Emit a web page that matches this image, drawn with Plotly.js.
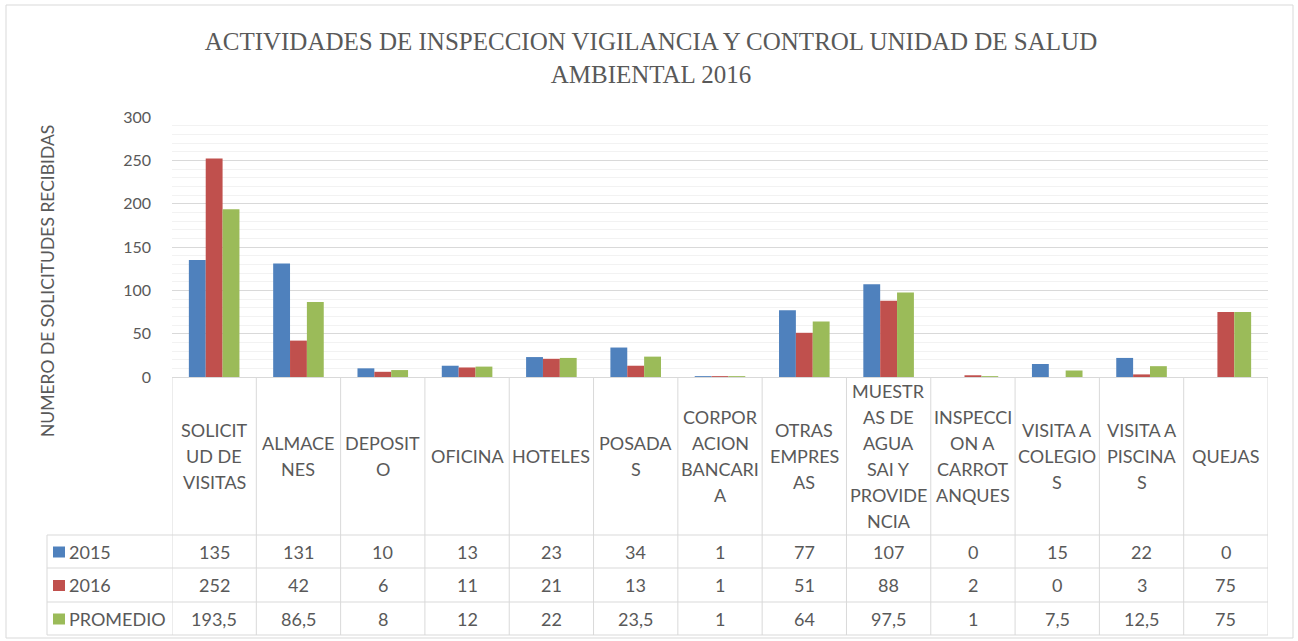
<!DOCTYPE html>
<html>
<head>
<meta charset="utf-8">
<script src="https://cdn.plot.ly/plotly-3.0.1.min.js"></script>
<style>
html,body{margin:0;padding:0;background:#fff;}
#chart{width:1298px;height:641px;}
</style>
</head>
<body>
<div id="chart"></div>
<script>
// ---- data ----
var categories = ["SOLICITUD DE VISITAS","ALMACENES","DEPOSITO","OFICINA","HOTELES","POSADAS",
  "CORPORACION BANCARIA","OTRAS EMPRESAS","MUESTRAS DE AGUA SAI Y PROVIDENCIA",
  "INSPECCION A CARROTANQUES","VISITA A COLEGIOS","VISITA A PISCINAS","QUEJAS"];
var categoryLabels = ["SOLICIT<br>UD DE<br>VISITAS","ALMACE<br>NES","DEPOSIT<br>O","OFICINA","HOTELES",
  "POSADA<br>S","CORPOR<br>ACION<br>BANCARI<br>A","OTRAS<br>EMPRES<br>AS",
  "MUESTR<br>AS DE<br>AGUA<br>SAI Y<br>PROVIDE<br>NCIA","INSPECCI<br>ON A<br>CARROT<br>ANQUES",
  "VISITA A<br>COLEGIO<br>S","VISITA A<br>PISCINA<br>S","QUEJAS"];
var seriesNames = ["2015","2016","PROMEDIO"];
var values2015 = [135,131,10,13,23,34,1,77,107,0,15,22,0];
var values2016 = [252,42,6,11,21,13,1,51,88,2,0,3,75];
var valuesPromedio = [193.5,86.5,8,12,22,23.5,1,64,97.5,1,7.5,12.5,75];
var yTicks = [0,50,100,150,200,250,300];
var chartTitle = "ACTIVIDADES DE INSPECCION VIGILANCIA Y CONTROL UNIDAD DE SALUD<br>AMBIENTAL 2016";
var yTitle = "NUMERO DE SOLICITUDES RECIBIDAS";

// ---- style ----
var colors = ["#4F81BD","#C0504D","#9BBB59"];
var textColor = "#595959";
var lineColor = "#D9D9D9";
var bodyFont = "Lato, 'Open Sans', sans-serif";
var tableSize = 18;

var W = 1298, H = 641;
var mL = 172, mR = 30, mT = 117, mB = 6;
var plotH = H - mT - mB, plotW = W - mL - mR;
function py(pix){ return (H - mB - pix) / plotH; }
function px(pix){ return (pix - mL) / plotW; }

var axisY = 377;
var headerBottom = 535, row1 = 568, row2 = 602, tableBottom = 635;
var legendLeft = 47;

var allSeries = [values2015, values2016, valuesPromedio];
var traces = allSeries.map(function(vals, i){
  return {
    type: "bar", name: seriesNames[i], x: categories, y: vals,
    marker: {color: colors[i]}, hoverinfo: "x+y"
  };
});

var annotations = [];
var shapes = [];

// category header labels (line by line)
var headerCenter = (axisY + headerBottom) / 2;
var lineSp = 26;
categoryLabels.forEach(function(lbl, ci){
  var lines = lbl.split("<br>");
  var n = lines.length;
  lines.forEach(function(t, k){
    annotations.push({
      xref: "x", yref: "paper", x: categories[ci], y: py(headerCenter),
      yshift: ((n - 1) / 2 - k) * lineSp,
      text: t, showarrow: false, xanchor: "center", yanchor: "middle",
      font: {family: bodyFont, size: tableSize, color: textColor}
    });
  });
});

// table values
var rowCenters = [(headerBottom + row1) / 2, (row1 + row2) / 2, (row2 + tableBottom) / 2];
function fmt(v){ return String(v).replace(".", ","); }
allSeries.forEach(function(vals, si){
  vals.forEach(function(v, ci){
    annotations.push({
      xref: "x", yref: "paper", x: categories[ci], y: py(rowCenters[si]),
      text: fmt(v), showarrow: false, xanchor: "center", yanchor: "middle",
      font: {family: bodyFont, size: tableSize, color: textColor}
    });
  });
  // row label
  annotations.push({
    xref: "paper", yref: "paper", x: px(67), y: py(rowCenters[si]),
    text: seriesNames[si], showarrow: false, xanchor: "left", yanchor: "middle",
    font: {family: bodyFont, size: tableSize, color: textColor}
  });
  // legend key square
  shapes.push({
    type: "rect", xref: "paper", yref: "paper",
    x0: px(53), x1: px(65), y0: py(rowCenters[si] + 6), y1: py(rowCenters[si] - 5),
    fillcolor: colors[si], line: {width: 0}
  });
});

// table grid lines
for (var i = 0; i <= categories.length; i++) {
  shapes.push({
    type: "line", xref: "x", yref: "paper", x0: i - 0.5, x1: i - 0.5,
    y0: py(tableBottom), y1: py(axisY), line: {color: lineColor, width: 1}
  });
}
[headerBottom, row1, row2, tableBottom].forEach(function(yy){
  shapes.push({
    type: "line", xref: "paper", yref: "paper", x0: px(legendLeft), x1: 1,
    y0: py(yy), y1: py(yy), line: {color: lineColor, width: 1}
  });
});
shapes.push({
  type: "line", xref: "paper", yref: "paper", x0: px(legendLeft), x1: px(legendLeft),
  y0: py(tableBottom), y1: py(headerBottom), line: {color: lineColor, width: 1}
});
// outer chart border
shapes.push({
  type: "rect", xref: "paper", yref: "paper", x0: px(6), x1: px(1293),
  y0: py(638), y1: py(5), line: {color: "#D9D9D9", width: 1}, layer: "below"
});

// y axis title
annotations.push({
  xref: "paper", yref: "paper", x: px(47), y: py(281), textangle: -90,
  text: yTitle, showarrow: false, xanchor: "center", yanchor: "middle",
  font: {family: bodyFont, size: 17.5, color: textColor}
});

var layout = {
  width: W, height: H,
  margin: {l: mL, r: mR, t: mT, b: mB, pad: 0},
  paper_bgcolor: "#fff", plot_bgcolor: "#fff",
  showlegend: false,
  barmode: "group", bargap: 0.4, bargroupgap: 0,
  title: {
    text: chartTitle, x: 0.5015, xref: "container", y: 1 - 50 / H, yref: "container",
    xanchor: "center", yanchor: "middle",
    font: {family: "'Liberation Serif', 'DejaVu Serif', serif", size: 25, color: textColor}
  },
  xaxis: {
    type: "category", showticklabels: false, ticks: "", showgrid: false,
    showline: false, zeroline: false, range: [-0.5, categories.length - 0.5], fixedrange: true
  },
  yaxis: {
    domain: [py(axisY), 1], range: [0, 300], tickvals: yTicks,
    showgrid: true, gridcolor: lineColor, gridwidth: 1,
    minor: {dtick: 10, showgrid: true, gridcolor: "#F2F2F2", gridwidth: 1},
    zeroline: true, zerolinecolor: lineColor, zerolinewidth: 1,
    showline: false, ticks: "", ticklabelstandoff: 20,
    tickfont: {family: bodyFont, size: 16, color: textColor}, fixedrange: true
  },
  annotations: annotations,
  shapes: shapes,
  font: {family: bodyFont, color: textColor}
};

Plotly.newPlot("chart", traces, layout, {displayModeBar: false, staticPlot: true});
</script>
</body>
</html>
